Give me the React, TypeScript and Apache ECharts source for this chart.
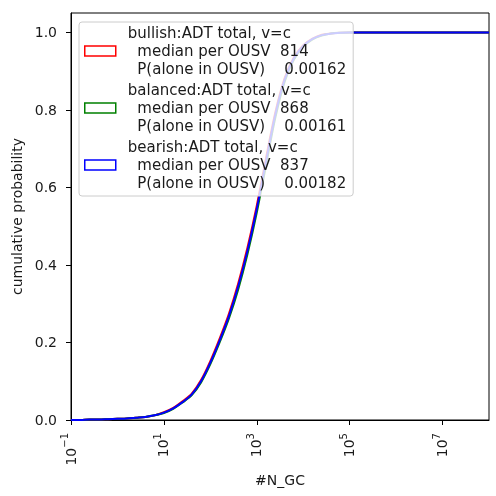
import React, { useEffect, useRef } from "react";
import * as echarts from "echarts";

// x values are log10(#N_GC)
const exponents = [-1.0, -0.8, -0.6, -0.4, -0.2, 0.0, 0.2, 0.4, 0.6, 0.8, 1.0, 1.2, 1.4, 1.6, 1.8, 2.0, 2.2, 2.4, 2.6, 2.8, 3.0, 3.2, 3.4, 3.6, 3.8, 4.0, 4.2, 4.4, 4.6, 4.8, 5.0, 6.0, 7.0, 8.0];

const bullishP = [0.0, 0.0, 0.001, 0.001, 0.002, 0.003, 0.004, 0.006, 0.008, 0.012, 0.020, 0.031, 0.048, 0.068, 0.103, 0.152, 0.210, 0.274, 0.352, 0.445, 0.553, 0.676, 0.794, 0.882, 0.936, 0.967, 0.984, 0.994, 0.997, 0.999, 1.0, 1.0, 1.0, 1.0];
const balancedP = [0.0, 0.0, 0.001, 0.001, 0.002, 0.003, 0.004, 0.006, 0.008, 0.012, 0.018, 0.029, 0.045, 0.064, 0.097, 0.144, 0.200, 0.262, 0.337, 0.428, 0.535, 0.658, 0.780, 0.873, 0.930, 0.963, 0.982, 0.992, 0.997, 0.999, 1.0, 1.0, 1.0, 1.0];
const bearishP = [0.0, 0.0, 0.001, 0.001, 0.002, 0.003, 0.004, 0.006, 0.008, 0.012, 0.019, 0.030, 0.046, 0.066, 0.100, 0.148, 0.205, 0.268, 0.345, 0.437, 0.545, 0.668, 0.788, 0.878, 0.933, 0.965, 0.983, 0.993, 0.997, 0.999, 1.0, 1.0, 1.0, 1.0];

const seriesNames = ["bullish:ADT total, v=c", "balanced:ADT total, v=c", "bearish:ADT total, v=c"];
const seriesColors = ["#ff0000", "#008000", "#0000ff"];
const medians = ["814", "868", "837"];
const pAlone = ["0.00162", "0.00161", "0.00182"];

const xTicks = [-1, 1, 3, 5, 7];
const yTicks = [0, 0.2, 0.4, 0.6, 0.8, 1.0];

const FONT = "DejaVu Sans";
const TXT = "#1a1a1a";

export default function App() {
  const ref = useRef<HTMLDivElement>(null);
  useEffect(() => {
    if (!ref.current) return;
    const chart = echarts.init(ref.current, null, { renderer: "svg" });
    const allP = [bullishP, balancedP, bearishP];
    const nb = "\u00a0";
    const labelFor = (name: string) => {
      const i = seriesNames.indexOf(name);
      return (
        name +
        "\n" + nb + nb + "median per OUSV" + nb + nb + medians[i] +
        "\n" + nb + nb + "P(alone in OUSV)" + nb + nb + nb + nb + pAlone[i]
      );
    };
    chart.setOption({
      animation: false,
      textStyle: { fontFamily: FONT },
      grid: {
        left: 71,
        right: 7,
        top: 13,
        bottom: 76,
        show: true,
        borderColor: "#000",
        borderWidth: 1,
        backgroundColor: "transparent",
      },
      xAxis: {
        type: "value",
        min: -1,
        max: 8,
        name: "#N_GC",
        nameLocation: "middle",
        nameGap: 52,
        nameTextStyle: { fontSize: 14, color: TXT, fontFamily: FONT },
        axisLine: { show: true, onZero: false, lineStyle: { color: "#000", width: 1 } },
        axisTick: { show: true, length: 5, customValues: xTicks, lineStyle: { color: "#000" } },
        splitLine: { show: false },
        axisLabel: {
          customValues: xTicks,
          rotate: 90,
          margin: 13,
          padding: [0, 0, 5, 0],
          color: TXT,
          fontFamily: FONT,
          formatter: (v: number) => {
            const s = v < 0 ? "\u2212" + String(-v) : String(v);
            return "{b|10}{s|" + s + "}";
          },
          rich: {
            b: { fontSize: 14, lineHeight: 18, verticalAlign: "bottom", color: TXT, fontFamily: FONT },
            s: { fontSize: 10, verticalAlign: "top", color: TXT, fontFamily: FONT },
          },
        },
      },
      yAxis: {
        type: "value",
        min: 0,
        max: 1.05,
        name: "cumulative probability",
        nameLocation: "middle",
        nameGap: 44,
        nameTextStyle: { fontSize: 14, color: TXT, fontFamily: FONT },
        axisLine: { show: true, onZero: false, lineStyle: { color: "#000", width: 1 } },
        axisTick: { show: true, length: 5, customValues: yTicks, lineStyle: { color: "#000" } },
        splitLine: { show: false },
        axisLabel: {
          customValues: yTicks,
          margin: 14,
          fontSize: 14,
          color: TXT,
          fontFamily: FONT,
          formatter: (v: number) => v.toFixed(1),
        },
      },
      legend: {
        z: 10,
        left: 79,
        top: 22,
        orient: "vertical",
        icon: "rect",
        itemWidth: 31,
        itemHeight: 10,
        itemGap: 3,
        padding: [2, 7, 4, 5],
        backgroundColor: "rgba(255,255,255,0.8)",
        borderColor: "#cccccc",
        borderWidth: 1,
        borderRadius: 3,
        selectedMode: false,
        textStyle: { fontSize: 15, lineHeight: 18, color: TXT, fontFamily: FONT, padding: [0, 0, 0, 7] },
        formatter: labelFor,
        data: seriesNames.map((n, i) => ({
          name: n,
          itemStyle: { color: "rgba(0,0,0,0)", borderColor: seriesColors[i], borderWidth: 1.5 },
        })),
      },
      series: seriesNames.map((n, i) => ({
        name: n,
        type: "line",
        data: exponents.map((x, j) => [x, allP[i][j]]),
        showSymbol: false,
        symbol: "none",
        smooth: 0.3,
        lineStyle: { color: seriesColors[i], width: 2 },
        itemStyle: { color: seriesColors[i] },
        emphasis: { disabled: true },
        z: 2,
      })),
    });
    return () => chart.dispose();
  }, []);
  return <div ref={ref} style={{ position: "fixed", left: 0, top: 0, width: 496, height: 496 }} />;
}
